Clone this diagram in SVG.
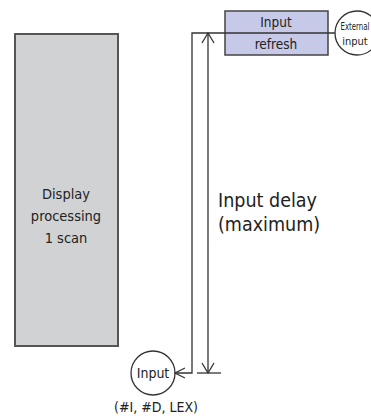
<svg xmlns="http://www.w3.org/2000/svg" width="371" height="416" viewBox="0 0 371 416">
<style>
text{font-family:"DejaVu Sans Condensed","DejaVu Sans","Liberation Sans",sans-serif;fill:#222}
.ln{stroke:#333;stroke-width:1.3;fill:none}
</style>
<defs>
<marker id="ah" markerWidth="12" markerHeight="12" refX="11" refY="6" orient="auto" markerUnits="userSpaceOnUse">
<path d="M1,1 L11,6 L1,11" fill="none" stroke="#333" stroke-width="1.2"/>
</marker>
</defs>
<rect width="371" height="416" fill="#fff"/>
<g id="display">
<rect x="15" y="34" width="103" height="312" fill="#d1d2d4" stroke="#555" stroke-width="2"/>
<text x="66" y="199" font-size="14.5" text-anchor="middle">Display</text>
<text x="66" y="221" font-size="14.5" text-anchor="middle">processing</text>
<text x="66" y="243" font-size="14.5" text-anchor="middle">1 scan</text>
</g>
<g id="refresh">
<rect x="225" y="11" width="103" height="44" fill="#c7c9e8" stroke="#444" stroke-width="1.5"/>
<text x="276" y="27" font-size="13.5" text-anchor="middle">Input</text>
<text x="276" y="49" font-size="13.5" text-anchor="middle">refresh</text>
</g>
<g id="external">
<circle cx="357" cy="33" r="22" fill="#fff" stroke="#333" stroke-width="1.3"/>
<text x="355" y="30" font-size="11" text-anchor="middle" textLength="29" lengthAdjust="spacingAndGlyphs">External</text>
<text x="355" y="45" font-size="11" text-anchor="middle">input</text>
</g>
<g id="input">
<circle cx="153" cy="373" r="22" fill="#fff" stroke="#333" stroke-width="1.3"/>
<text x="153" y="378" font-size="14" text-anchor="middle">Input</text>
<text x="156" y="412" font-size="14" text-anchor="middle">(#I, #D, LEX)</text>
</g>
<g id="delay-label">
<text x="218" y="207" font-size="19.5">Input delay</text>
<text x="218" y="231" font-size="19.5">(maximum)</text>
</g>
<g id="connectors">
<path class="ln" d="M335,33 L192,33 L192,373 L175,373" marker-end="url(#ah)"/>
<line class="ln" x1="208" y1="33" x2="208" y2="373"/>
<path class="ln" d="M202,43 L208,33 L214,43 M202,363 L208,373 L214,363"/>
<line class="ln" x1="197" y1="373" x2="221" y2="373"/>
</g>
</svg>
